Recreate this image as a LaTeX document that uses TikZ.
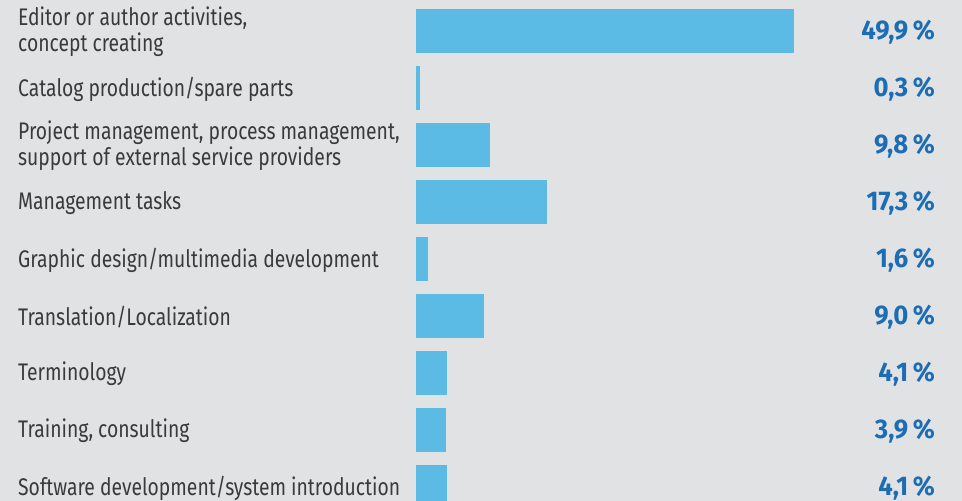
\documentclass[tikz,border=0pt]{standalone}
\usepackage{fontspec}
\setmainfont[FakeStretch=0.805]{Fira Sans}
\newfontfamily\pctfont[FakeStretch=0.95]{Fira Sans}
\usepackage{tikz}
\usetikzlibrary{calc}

\definecolor{bggray}{HTML}{E1E2E4}
\definecolor{barblue}{HTML}{5BBBE5}
\definecolor{pctblue}{HTML}{1C6DB4}
\definecolor{textgray}{HTML}{3A3A3A}

\tikzset{
  itemlabel/.style={anchor=west, align=left, inner sep=0pt, text=textgray,
    font=\fontsize{24}{26}\selectfont},
  pctlabel/.style={anchor=east, inner sep=0pt, text=pctblue,
    font=\pctfont\fontsize{27}{27}\selectfont\bfseries},
}
\newcommand{\pctunit}{7.58}

\begin{document}
\begin{tikzpicture}[x=1pt,y=-1pt]
        % 背景
        \clip (0,0) rectangle (962,501);
        \fill[bggray] (0,0) rectangle (962,501);

        % 1
        \coordinate (r1) at (0,31);
        \node[itemlabel] (l1) at ($(r1)+(18,1)$) {Editor or author activities,\\concept creating};
        \fill[barblue] ($(r1)+(416,-22)$) rectangle ($(r1)+({416+\pctunit*49.9},22)$);
        \node[pctlabel] (p1) at ($(r1)+(935,1)$) {49,9\,\%};

        % 2
        \coordinate (r2) at (0,88);
        \node[itemlabel] (l2) at ($(r2)+(18,1)$) {Catalog production/spare parts};
        \fill[barblue] ($(r2)+(416,-22)$) rectangle ($(r2)+(420,22)$); % 最小幅
        \node[pctlabel] (p2) at ($(r2)+(935,1)$) {0,3\,\%};

        % 3
        \coordinate (r3) at (0,145);
        \node[itemlabel] (l3) at ($(r3)+(18,1)$) {Project management, process management,\\support of external service providers};
        \fill[barblue] ($(r3)+(416,-22)$) rectangle ($(r3)+({416+\pctunit*9.8},22)$);
        \node[pctlabel] (p3) at ($(r3)+(935,1)$) {9,8\,\%};

        % 4
        \coordinate (r4) at (0,202);
        \node[itemlabel] (l4) at ($(r4)+(18,1)$) {Management tasks};
        \fill[barblue] ($(r4)+(416,-22)$) rectangle ($(r4)+({416+\pctunit*17.3},22)$);
        \node[pctlabel] (p4) at ($(r4)+(935,1)$) {17,3\,\%};

        % 5
        \coordinate (r5) at (0,259);
        \node[itemlabel] (l5) at ($(r5)+(18,1)$) {Graphic design/multimedia development};
        \fill[barblue] ($(r5)+(416,-22)$) rectangle ($(r5)+({416+\pctunit*1.6},22)$);
        \node[pctlabel] (p5) at ($(r5)+(935,1)$) {1,6\,\%};

        % 6
        \coordinate (r6) at (0,316);
        \node[itemlabel] (l6) at ($(r6)+(18,1)$) {Translation/Localization};
        \fill[barblue] ($(r6)+(416,-22)$) rectangle ($(r6)+({416+\pctunit*9.0},22)$);
        \node[pctlabel] (p6) at ($(r6)+(935,1)$) {9,0\,\%};

        % 7
        \coordinate (r7) at (0,373);
        \node[itemlabel] (l7) at ($(r7)+(18,1)$) {Terminology};
        \fill[barblue] ($(r7)+(416,-22)$) rectangle ($(r7)+({416+\pctunit*4.1},22)$);
        \node[pctlabel] (p7) at ($(r7)+(935,1)$) {4,1\,\%};

        % 8
        \coordinate (r8) at (0,430);
        \node[itemlabel] (l8) at ($(r8)+(18,1)$) {Training, consulting};
        \fill[barblue] ($(r8)+(416,-22)$) rectangle ($(r8)+({416+\pctunit*3.9},22)$);
        \node[pctlabel] (p8) at ($(r8)+(935,1)$) {3,9\,\%};

        % 9 (下端で切れる)
        \coordinate (r9) at (0,487);
        \node[itemlabel] (l9) at ($(r9)+(18,1)$) {Software development/system introduction};
        \fill[barblue] ($(r9)+(416,-22)$) rectangle ($(r9)+({416+\pctunit*4.1},22)$);
        \node[pctlabel] (p9) at ($(r9)+(935,1)$) {4,1\,\%};
\end{tikzpicture}
\end{document}
